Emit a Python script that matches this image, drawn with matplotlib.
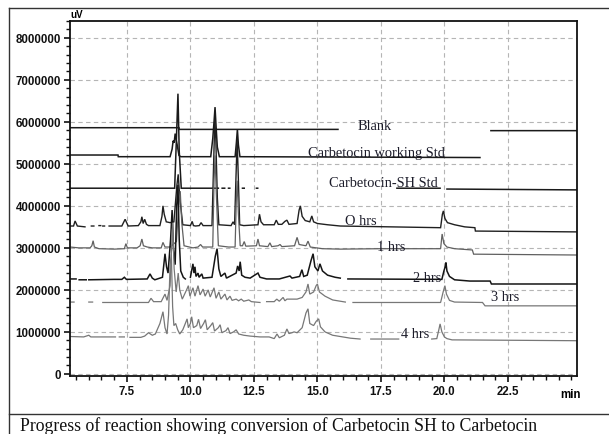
import numpy as np
import matplotlib
matplotlib.use("Agg")
import matplotlib.pyplot as plt
from matplotlib.lines import Line2D
from matplotlib.ticker import MultipleLocator

nan = np.nan

# ---------------- data (minutes, signal in millions of uV) ----------------
blank_t = [5.26, 9.55, 9.56, 15.81, nan, 21.83, 25.22]
blank_v = [5.86, 5.86, 5.82, 5.82, nan, 5.79, 5.79]

std_t = [5.26, 7.15, 7.16, 9.20, 9.28, 9.32, 9.36, 9.40, 9.44, 9.48, 9.55, 9.62,
         10.80, 10.88, 10.93, 10.97, 11.01, 11.06, 11.14, 11.76, 11.81, 11.85,
         11.89, 11.95, 21.40]
std_v = [5.21, 5.21, 5.17, 5.17, 5.35, 5.55, 5.50, 5.72, 5.58, 5.45, 5.20, 5.17,
         5.17, 5.60, 6.00, 6.35, 5.90, 5.40, 5.17, 5.17, 5.50, 5.82,
         5.45, 5.17, 5.15]

sh_t = [5.26, 9.38, 9.45, 9.51, 9.56, 9.64, 10.85, nan, 10.95, 11.10, nan,
        11.25, 11.35, nan, 11.50, 11.55, nan, 12.05, 12.12, nan, 12.60, 12.65,
        nan, 18.13, 19.83, nan, 20.10, 25.22]
sh_v = [4.42, 4.42, 5.60, 6.67, 5.30, 4.42, 4.42, nan, 4.42, 4.42, nan,
        4.42, 4.42, nan, 4.42, 4.42, nan, 4.42, 4.42, nan, 4.42, 4.42,
        nan, 4.42, 4.42, nan, 4.40, 4.38]

hr0_t = [5.26, 5.40, 5.46, 5.55, 5.85, nan, 6.10, 6.20, nan, 6.40, 6.47, nan,
         6.55, 6.62, nan, 6.80, 7.30, 7.43, 7.55, 7.95, 8.05, 8.09, 8.14, 8.20,
         8.27, 8.35, 8.80, 8.88, 8.92, 8.97, 9.05, 9.20, 9.35, 9.47, 9.52, 9.58,
         9.70, 10.00, 10.07, 10.12, 10.20, 10.35, 10.42, 10.50, 10.85, 10.91,
         10.96, 11.00, 11.06, 11.12, 11.60, 11.68, 11.74, 11.79, 11.84, 11.88,
         11.94, 12.10, 12.66, 12.72, 12.78, 12.88, 13.30, 13.38, 13.46, 13.60,
         13.72, 13.80, 13.88, 14.20, 14.28, 14.33, 14.40, 14.52, 14.70, 14.78,
         14.85, 15.00, 15.40, 15.90, 19.85, 19.92, 19.96, 20.02, 20.12, 20.40,
         20.80, 21.20, 21.22, 25.22]
hr0_v = [3.52, 3.52, 3.64, 3.52, 3.50, nan, 3.52, 3.52, nan, 3.53, 3.53, nan,
         3.52, 3.52, nan, 3.52, 3.52, 3.68, 3.52, 3.53, 3.62, 3.74, 3.58, 3.68,
         3.56, 3.53, 3.53, 3.75, 4.00, 3.80, 3.62, 3.60, 3.62, 4.50, 4.75, 4.20,
         3.55, 3.53, 3.63, 3.53, 3.52, 3.53, 3.60, 3.53, 3.53, 4.90,
         6.05, 5.60, 4.20, 3.55, 3.53, 3.62, 3.55, 4.60, 5.55, 4.80,
         3.55, 3.53, 3.55, 3.80, 3.62, 3.55, 3.55, 3.66, 3.56, 3.56,
         3.63, 3.66, 3.56, 3.58, 3.90, 4.00, 3.75, 3.65, 3.62, 3.76,
         3.62, 3.58, 3.55, 3.52, 3.48, 3.80, 3.88, 3.70, 3.60, 3.55,
         3.50, 3.48, 3.40, 3.38]

hr1_t = [5.26, 5.60, 6.05, 6.12, 6.17, 6.22, 6.40, 7.00, 7.40, 7.46, 7.52, 7.90,
         8.02, 8.09, 8.15, 8.30, 8.50, 8.85, 8.92, 9.00, 9.20, 9.45, 9.55, 9.60,
         9.66, 9.75, 10.10, 10.30, 10.40, 10.48, 10.88, 10.93, 10.97, 11.02,
         11.10, 11.50, 11.76, 11.81, 11.84, 11.89, 11.96, 12.05, 12.12, 12.18,
         12.60, 12.66, 12.72, 13.05, 13.13, 13.20, 13.45, 13.53, 13.60, 14.10,
         14.20, 14.28, 14.55, 14.63, 14.72, 15.20, 15.90, 17.50, 19.85, 19.91,
         19.98, 20.10, 20.40, 21.10, 21.15, 25.22]
hr1_v = [3.02, 3.00, 3.00, 3.05, 3.17, 3.02, 2.98, 2.97, 2.98, 3.10, 3.00, 3.00,
         3.05, 3.21, 3.05, 3.02, 3.00, 3.00, 3.13, 3.02, 3.02, 3.15, 4.10, 4.35,
         3.60, 3.05, 3.00, 3.02, 3.08, 3.02, 3.02, 4.60, 5.20, 4.30,
         3.05, 3.02, 3.02, 4.20, 4.60, 3.80, 3.05, 3.05, 3.15, 3.04,
         3.05, 3.21, 3.05, 3.03, 3.12, 3.03, 3.05, 3.08, 3.03, 3.05,
         3.25, 3.08, 3.05, 3.16, 3.02, 2.98, 2.97, 2.98, 2.98, 3.33,
         3.10, 3.02, 2.98, 2.95, 2.85, 2.83]

hr2_t = [5.26, 5.50, nan, 5.62, 5.90, nan, 6.00, 7.00, 7.30, 7.40, 7.48, 8.30,
         8.41, 8.50, 8.60, 8.90, 9.00, 9.06, 9.12, 9.22, 9.28, 9.33, 9.40, 9.46,
         9.51, 9.56, 9.62, 9.72, 9.80, nan, 10.00, 10.10, 10.14, 10.18, 10.22,
         10.30, 10.34, 10.45, 10.50, 10.85, 10.98, 11.05, 11.12, 11.20, 11.36,
         11.42, 11.80, 11.86, 11.92, 11.96, 12.02, 12.15, 12.35, 12.66, 12.74,
         13.00, 13.50, 13.92, 14.00, 14.30, 14.39, 14.46, 14.60, 14.75, 14.83,
         14.90, 15.02, 15.10, 15.20, 15.40, 15.70, 15.90, nan, 16.20, 19.90,
         19.98, 20.04, 20.06, 20.10, 20.20, 20.40, 21.00, 21.80, 21.85, 25.22]
hr2_v = [2.26, 2.26, nan, 2.24, 2.24, nan, 2.24, 2.25, 2.25, 2.30, 2.25, 2.26,
         2.38, 2.28, 2.24, 2.30, 2.86, 2.55, 2.40, 3.20, 3.90, 3.00, 2.60, 4.00,
         4.50, 3.20, 2.45, 2.30, 2.26, nan, 2.30, 2.62, 2.40, 2.55, 2.32,
         2.40, 2.30, 2.38, 2.28, 2.30, 2.80, 2.98, 2.50, 2.32, 2.40,
         2.28, 2.40, 2.57, 2.45, 2.67, 2.35, 2.30, 2.28, 2.40, 2.30,
         2.26, 2.26, 2.33, 2.28, 2.32, 2.48, 2.32, 2.35, 2.70, 2.86,
         2.55, 2.45, 2.62, 2.45, 2.35, 2.30, 2.28, nan, 2.26, 2.25,
         2.45, 2.57, 2.65, 2.45, 2.32, 2.24, 2.21, 2.21, 2.14, 2.14]

hr3_t = [5.30, 5.42, nan, 6.00, 6.15, nan, 6.55, 8.35, 8.45, 8.55, 8.85, 9.00,
         9.08, 9.20, 9.30, 9.36, 9.44, 9.52, 9.58, 9.68, 9.85, 9.92, 9.98, 10.10,
         10.18, 10.30, 10.38, 10.50, 10.58, 10.70, 10.78, 10.93, 11.01, 11.12,
         11.20, 11.36, 11.44, 11.56, 11.64, 11.80, 11.90, 12.00, 12.10, 12.30,
         12.40, 12.74, nan, 13.00, 13.30, 13.40, 13.50, 13.65, 13.72, 13.80,
         14.20, 14.40, 14.55, 14.63, 14.70, 14.85, 14.95, 15.00, 15.08, 15.30,
         15.60, 16.00, 16.10, nan, 16.40, 19.85, 19.95, 20.02, 20.08, 20.20,
         20.40, 21.50, 21.60, 25.22]
hr3_v = [1.71, 1.71, nan, 1.71, 1.71, nan, 1.70, 1.70, 1.80, 1.72, 1.72, 1.90,
         1.75, 2.10, 3.60, 2.50, 1.95, 2.40, 2.00, 1.78, 2.00, 2.10, 1.85, 2.05,
         1.85, 2.10, 1.88, 2.02, 1.85, 2.00, 1.83, 2.05, 1.80, 1.95,
         1.78, 1.90, 1.76, 1.85, 1.75, 1.78, 1.74, 1.78, 1.73, 1.76,
         1.72, 1.70, nan, 1.72, 1.72, 1.78, 1.73, 1.82, 1.74, 1.78,
         1.78, 1.82, 1.95, 2.14, 1.90, 1.95, 2.10, 2.14, 1.95, 1.85,
         1.76, 1.72, 1.71, nan, 1.70, 1.70, 1.95, 2.10, 1.90, 1.75,
         1.71, 1.70, 1.62, 1.62]

hr4_t = [5.26, 5.80, 6.00, 6.08, 7.05, nan, 7.20, 7.40, nan, 7.62, 8.05, 8.20,
         8.35, 8.50, 8.62, 8.80, 8.92, 9.00, 9.08, 9.14, 9.20, 9.25, 9.30, 9.35,
         9.42, 9.50, 9.58, 9.70, 9.80, 9.87, 9.92, 10.00, 10.05, 10.12, 10.25,
         10.32, 10.40, 10.52, 10.59, 10.66, 10.80, 10.88, 10.95, 11.10, 11.17,
         11.24, 11.40, 11.48, 11.56, 11.70, 11.80, 11.90, 12.10, 12.35, 12.74,
         13.10, 13.30, 13.41, 13.50, 13.70, 13.80, 13.88, 14.00, 14.08, 14.20,
         14.40, 14.55, 14.63, 14.70, 14.85, 14.95, 15.05, 15.12, 15.30, 15.60,
         16.00, 16.30, 16.68, nan, 17.10, 18.20, nan, 19.50, 19.70, 19.78,
         19.83, 19.90, 20.00, 20.10, 20.30, 25.22]
hr4_v = [0.89, 0.88, 0.92, 0.88, 0.88, nan, 0.88, 0.88, nan, 0.87, 0.87, 0.90,
         0.98, 0.92, 0.95, 1.20, 1.48, 1.10, 0.95, 1.40, 2.60, 2.85, 1.60, 1.15,
         1.20, 1.05, 0.95, 1.05, 1.20, 1.31, 1.10, 1.20, 1.36, 1.10, 1.15,
         1.30, 1.08, 1.20, 1.29, 1.05, 1.15, 1.22, 1.02, 1.10, 1.17,
         0.98, 1.03, 1.10, 0.96, 1.00, 1.05, 0.95, 0.92, 0.90, 0.88,
         0.88, 0.84, 0.95, 0.86, 0.92, 1.07, 0.96, 0.98, 1.00, 0.98,
         1.10, 1.45, 1.55, 1.20, 1.15, 1.25, 1.31, 1.12, 1.00, 0.92,
         0.88, 0.85, 0.83, nan, 0.83, 0.83, nan, 0.83, 0.84, 1.05,
         1.19, 1.00, 0.88, 0.84, 0.81, 0.79]

trace_labels = ["Blank", "Carbetocin working Std", "Carbetocin-SH Std",
                "O hrs", "1 hrs", "2 hrs", "3 hrs", "4 hrs"]
label_x = [17.27, 17.31, 17.58, 16.72, 17.90, 19.32, 22.39, 18.84]
label_y = [5.92, 5.26, 4.55, 3.66, 3.04, 2.30, 1.84, 0.97]

yticks = [0, 1, 2, 3, 4, 5, 6, 7, 8]
ytick_labels = ["0", "1000000", "2000000", "3000000", "4000000",
                "5000000", "6000000", "7000000", "8000000"]
xticks = [7.5, 10.0, 12.5, 15.0, 17.5, 20.0, 22.5]
xtick_labels = ["7.5", "10.0", "12.5", "15.0", "17.5", "20.0", "22.5"]

caption = "Progress of reaction showing conversion of Carbetocin SH to Carbetocin"

# ---------------- figure ----------------
W, H = 609, 435
fig = plt.figure(figsize=(W / 100, H / 100), dpi=100)
fig.patch.set_facecolor("white")

ax = fig.add_axes([70 / W, 1 - 377 / H, (577 - 70) / W, (377 - 22) / H])
ax.set_xlim(5.26, 25.22)
ax.set_ylim(-0.05, 8.40)

tick_family = ["Liberation Sans", "DejaVu Sans"]
serif = ["Liberation Serif", "DejaVu Serif"]

traces = [
    (blank_t, blank_v, "#1a1a1a", 1.1),
    (std_t, std_v, "#1a1a1a", 1.1),
    (sh_t, sh_v, "#1a1a1a", 1.1),
    (hr0_t, hr0_v, "#202020", 1.0),
    (hr1_t, hr1_v, "#606060", 0.9),
    (hr2_t, hr2_v, "#151515", 1.1),
    (hr3_t, hr3_v, "#777777", 0.9),
    (hr4_t, hr4_v, "#777777", 0.9),
]
for t, v, c, lw in traces:
    ax.plot(t, v, color=c, lw=lw, solid_joinstyle="miter")

for lab, lx, ly in zip(trace_labels, label_x, label_y):
    ax.text(lx, ly, lab, ha="center", va="center", fontsize=10.4,
            family=serif, color="#1c1c2a")

# grid
for gx in xticks:
    ax.axvline(gx, color="#b5b5b5", lw=0.8, ls=(0, (4, 3)), zorder=0)
for gy in yticks:
    ax.axhline(gy, color="#b5b5b5", lw=0.8, ls=(0, (4, 3)), zorder=0)

ax.set_yticks(yticks)
ax.set_yticklabels(ytick_labels)
ax.set_xticks(xticks)
ax.set_xticklabels(xtick_labels)
ax.xaxis.set_minor_locator(MultipleLocator(0.5))
ax.yaxis.set_minor_locator(MultipleLocator(0.2))
ax.tick_params(which="major", direction="out", length=4.5, width=1.2, pad=2,
               colors="#111111")
ax.tick_params(which="minor", direction="out", length=3, width=1.0,
               colors="#111111")
for lab in ax.get_xticklabels() + ax.get_yticklabels():
    lab.set_family(tick_family)
    lab.set_fontweight("bold")
    lab.set_fontsize(8.3)
for sp in ax.spines.values():
    sp.set_linewidth(1.3)
    sp.set_color("#111111")

ax.text(24.95, -0.035, "min", transform=ax.get_xaxis_transform(),
        ha="center", va="top", fontsize=8.3, fontweight="bold",
        family=tick_family)
ax.text(0.0, 1.005, "uV", transform=ax.transAxes, ha="left", va="bottom",
        fontsize=7.0, fontweight="bold", family=tick_family)

# outer frame & caption separator
fig.add_artist(Line2D([9 / W, 1.0], [1 - 9 / H, 1 - 9 / H], color="#333333", lw=1.0))
fig.add_artist(Line2D([9 / W, 9 / W], [0, 1 - 9 / H], color="#333333", lw=1.0))
fig.add_artist(Line2D([9 / W, 1.0], [1 - 415 / H, 1 - 415 / H], color="#333333", lw=1.0))

fig.text(20 / W, 1 - 426 / H, caption, ha="left", va="center", fontsize=12.8,
         family=serif, color="#111111")

fig.savefig("out.png", dpi=100)
